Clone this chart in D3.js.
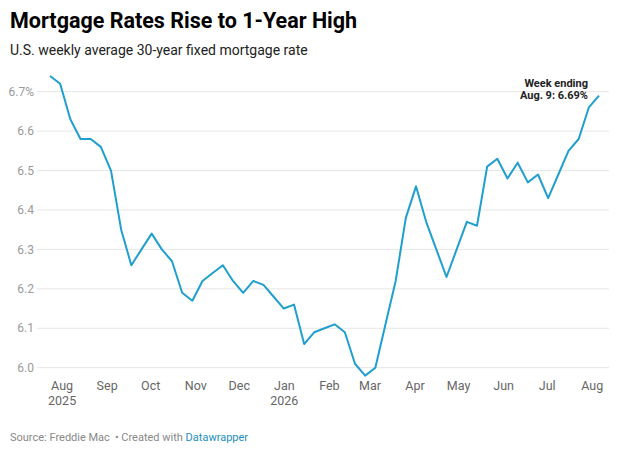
<!DOCTYPE html>
<html>
<head>
<meta charset="utf-8">
<script src="https://cdn.jsdelivr.net/npm/d3@7"></script>
<style>
  body { margin: 0; background: #fff; }
  svg { display: block; font-family: Roboto, "Noto Sans", sans-serif; }
</style>
</head>
<body>
<svg id="chart"></svg>
<script>
var width = 617, height = 452;

// weekly survey dates (Thursdays)
var weeks = [
  "2025-07-24", "2025-07-31", "2025-08-07", "2025-08-14", "2025-08-21", "2025-08-28",
  "2025-09-04", "2025-09-11", "2025-09-18", "2025-09-25", "2025-10-02", "2025-10-09",
  "2025-10-16", "2025-10-23", "2025-10-30", "2025-11-06", "2025-11-13", "2025-11-20",
  "2025-11-27", "2025-12-04", "2025-12-11", "2025-12-18", "2025-12-25", "2026-01-01",
  "2026-01-08", "2026-01-15", "2026-01-22", "2026-01-29", "2026-02-05", "2026-02-12",
  "2026-02-19", "2026-02-26", "2026-03-05", "2026-03-12", "2026-03-19", "2026-03-26",
  "2026-04-02", "2026-04-09", "2026-04-16", "2026-04-23", "2026-04-30", "2026-05-07",
  "2026-05-14", "2026-05-21", "2026-05-28", "2026-06-04", "2026-06-11", "2026-06-18",
  "2026-06-25", "2026-07-02", "2026-07-09", "2026-07-16", "2026-07-23", "2026-07-30",
  "2026-08-06"
];

// 30-year fixed rate, %
var rates = [
  6.74, 6.72, 6.63, 6.58, 6.58, 6.56,
  6.50, 6.35, 6.26, 6.30, 6.34, 6.30,
  6.27, 6.19, 6.17, 6.22, 6.24, 6.26,
  6.22, 6.19, 6.22, 6.21, 6.18, 6.15,
  6.16, 6.06, 6.09, 6.10, 6.11, 6.09,
  6.01, 5.98, 6.00, 6.11, 6.22, 6.38,
  6.46, 6.37, 6.30, 6.23, 6.30, 6.37,
  6.36, 6.51, 6.53, 6.48, 6.52, 6.47,
  6.49, 6.43, 6.49, 6.55, 6.58, 6.66,
  6.69
];

var yTicks = [6.0, 6.1, 6.2, 6.3, 6.4, 6.5, 6.6, 6.7];
var monthNames = ["Jan", "Feb", "Mar", "Apr", "May", "Jun", "Jul", "Aug", "Sep", "Oct", "Nov", "Dec"];
var yearTicks = ["2025-08-01", "2026-01-01"];

var parse = d3.timeParse("%Y-%m-%d");
var data = weeks.map(function(w, i) { return { date: parse(w), rate: rates[i] }; });

var svg = d3.select("#chart").attr("width", width).attr("height", height);

// title + subtitle
svg.append("text").attr("x", 10).attr("y", 27.5)
    .text("Mortgage Rates Rise to 1-Year High")
    .style("font-size", "21.5px").style("font-weight", "700").style("fill", "#000");

svg.append("text").attr("x", 10).attr("y", 55)
    .text("U.S. weekly average 30-year fixed mortgage rate")
    .style("font-size", "14px").style("fill", "#222");

var x = d3.scaleTime()
    .domain(d3.extent(data, function(d) { return d.date; }))
    .range([50, 599]);

var y = d3.scaleLinear()
    .domain([6.0, 6.7])
    .range([367.7, 91.7]);

// gridlines
svg.append("g").selectAll("line")
    .data(yTicks)
    .enter().append("line")
    .attr("x1", 37).attr("x2", 609)
    .attr("y1", function(d) { return y(d); })
    .attr("y2", function(d) { return y(d); })
    .style("stroke", "#e6e6e6").style("stroke-width", 1);

// y labels
svg.append("g").selectAll("text")
    .data(yTicks)
    .enter().append("text")
    .attr("x", 34)
    .attr("y", function(d) { return y(d); })
    .attr("dy", "0.35em")
    .attr("text-anchor", "end")
    .text(function(d) { return d === 6.7 ? d.toFixed(1) + "%" : d.toFixed(1); })
    .style("font-size", "12px").style("fill", "#9a9a9a");

// x axis labels, one per month
var months = d3.timeMonth.range(parse("2025-08-01"), parse("2026-08-02"));
var xAxis = d3.axisBottom(x)
    .tickValues(months)
    .tickSize(0)
    .tickPadding(0)
    .tickFormat(function(d) { return monthNames[d.getMonth()]; });

var gx = svg.append("g")
    .attr("transform", "translate(0,381)")
    .call(xAxis);
gx.select(".domain").remove();
gx.selectAll("text")
    .attr("dy", "0.71em")
    .style("font-family", "Roboto, sans-serif")
    .style("font-size", "12.5px")
    .style("fill", "#666");

gx.selectAll(".tick")
    .filter(function(d) { return yearTicks.indexOf(d3.timeFormat("%Y-%m-%d")(d)) >= 0; })
    .append("text")
    .attr("y", 15)
    .attr("dy", "0.71em")
    .attr("text-anchor", "middle")
    .text(function(d) { return d.getFullYear(); })
    .style("font-family", "Roboto, sans-serif")
    .style("font-size", "12.5px")
    .style("fill", "#666");

// the line
var line = d3.line()
    .x(function(d) { return x(d.date); })
    .y(function(d) { return y(d.rate); });

svg.append("path")
    .datum(data)
    .attr("d", line)
    .style("fill", "none")
    .style("stroke", "#1f9fd0")
    .style("stroke-width", 2)
    .style("stroke-linejoin", "round");

// annotation
var ann = svg.append("text")
    .attr("text-anchor", "end")
    .style("font-size", "11px").style("font-weight", "700").style("fill", "#222");
ann.append("tspan").attr("x", 588).attr("y", 87).text("Week ending");
ann.append("tspan").attr("x", 588).attr("y", 99).text("Aug. 9: 6.69%");

// footer
var foot = svg.append("text").attr("x", 10).attr("y", 441)
    .style("font-size", "11px").style("fill", "#888");
foot.append("tspan").text("Source: Freddie Mac");
foot.append("tspan").attr("dx", 5).text("\u2022 Created with ");
foot.append("tspan").text("Datawrapper").style("fill", "#1d8fc0");
</script>
</body>
</html>
